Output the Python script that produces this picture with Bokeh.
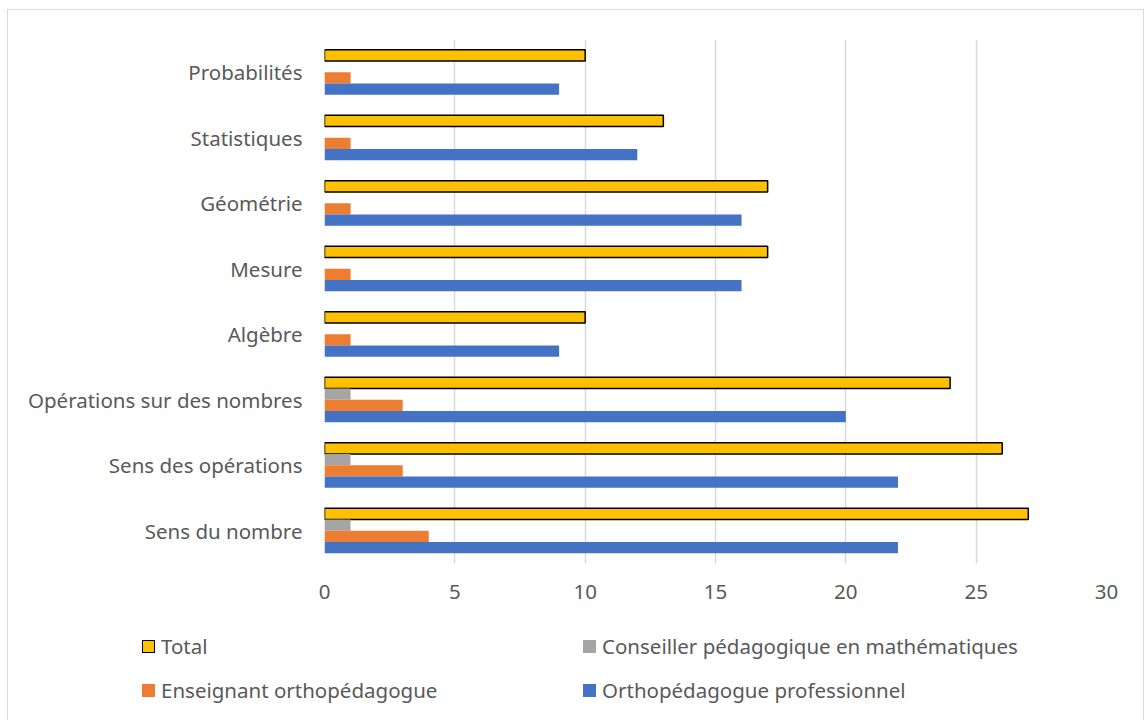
from bokeh.plotting import figure
from bokeh.layouts import column
from bokeh.models import FactorRange, Range1d, FixedTicker, ColumnDataSource, Div
from bokeh.transform import dodge
from bokeh.embed import file_html
from bokeh.resources import INLINE

categories = ["Sens du nombre", "Sens des opérations", "Opérations sur des nombres",
              "Algèbre", "Mesure", "Géométrie", "Statistiques", "Probabilités"]
total = [27, 26, 24, 10, 17, 17, 13, 10]
conseiller = [1, 1, 1, 0, 0, 0, 0, 0]
enseignant = [4, 3, 3, 1, 1, 1, 1, 1]
ortho = [22, 22, 20, 9, 16, 16, 12, 9]
x_ticks = [0, 5, 10, 15, 20, 25, 30]
series_names = ["Total", "Conseiller pédagogique en mathématiques",
                "Enseignant orthopédagogue", "Orthopédagogue professionnel"]
colors = ["#FFC000", "#A5A5A5", "#ED7D31", "#4472C4"]

src = ColumnDataSource(dict(cat=categories, total=total, conseiller=conseiller,
                            enseignant=enseignant, ortho=ortho))

FONT = "Noto Sans"
TXT = "#595959"
FS = "20.5px"

p = figure(width=1135, height=610, y_range=FactorRange(*categories, range_padding=0),
           x_range=Range1d(0, 30), output_backend="svg", toolbar_location=None,
           min_border_left=316, min_border_right=37, min_border_top=29, min_border_bottom=57)
p.outline_line_color = None

bh = 0.172
fields = ["total", "conseiller", "enseignant", "ortho"]
offsets = [0.257, 0.086, -0.086, -0.257]
for f, off, c in zip(fields, offsets, colors):
    kw = dict(line_color="black", line_width=1.5) if f == "total" else dict(line_color=None)
    p.hbar(y=dodge("cat", off, range=p.y_range), right=f, left=0, height=bh,
           source=src, fill_color=c, **kw)

p.xaxis.ticker = FixedTicker(ticks=x_ticks)
p.xgrid.grid_line_color = "#d9d9d9"
p.xgrid.grid_line_width = 1.5
p.ygrid.grid_line_color = None
for ax in (p.xaxis[0], p.yaxis[0]):
    ax.axis_line_color = None
    ax.major_tick_line_color = None
    ax.minor_tick_line_color = None
    ax.major_tick_out = 0
    ax.major_label_text_font = FONT
    ax.major_label_text_font_size = FS
    ax.major_label_text_color = TXT
p.xaxis.major_label_standoff = 21
p.yaxis.major_label_standoff = 22

# legend (2 columns x 2 rows), order as in the reference
slots = [(134, 14), (575, 14), (134, 58), (575, 58)]
parts = []
for i, (name, c) in enumerate(zip(series_names, colors)):
    x, y = slots[i]
    border = "border:1.5px solid #000;" if i == 0 else ""
    parts.append(
        f'<div style="position:absolute;left:{x}px;top:{y}px;height:24px;'
        f'display:flex;align-items:center;white-space:nowrap;">'
        f'<span style="display:inline-block;flex:none;width:13px;height:13px;background:{c};{border}'
        f'box-sizing:border-box;margin-right:6px;"></span><span>{name}</span></div>')
html = (f'<div style="position:relative;width:1135px;height:100px;font-family:\'{FONT}\';'
        f'font-size:{FS};color:{TXT};line-height:24px;">' + "".join(parts) + '</div>')
legend_div = Div(text=html, width=1135, height=100, margin=0)

lay = column(p, legend_div, spacing=0, styles={"border": "1px solid #d9d9d9",
                                                "margin-left": "7px", "margin-top": "9px"})

open("out.html", "w").write(file_html(lay, INLINE))
